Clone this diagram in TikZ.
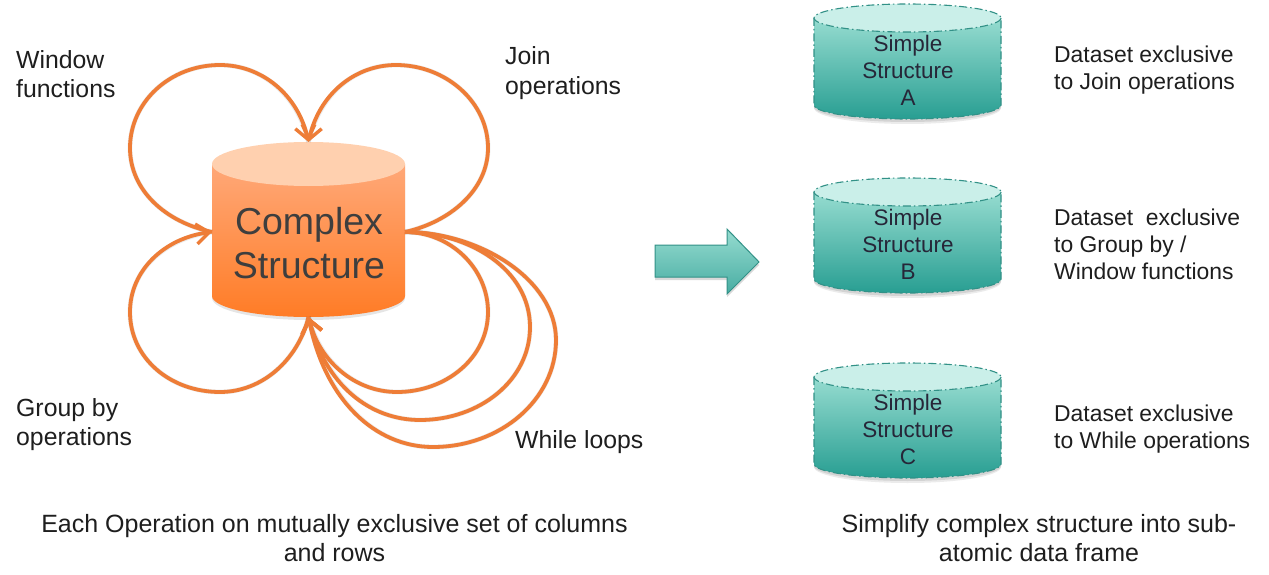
\documentclass[tikz,border=0pt]{standalone}
\usepackage{fontspec}
\setmainfont{Liberation Sans}
\usetikzlibrary{arrows.meta}
\definecolor{loopc}{RGB}{238,125,55}
\definecolor{orgtop}{RGB}{255,168,120}
\definecolor{orgbot}{RGB}{255,124,38}
\definecolor{orglid}{RGB}{255,208,175}
\definecolor{tealtop}{RGB}{150,220,208}
\definecolor{tealbot}{RGB}{40,158,146}
\definecolor{teallid}{RGB}{202,239,233}
\definecolor{tealline}{RGB}{50,145,135}
\definecolor{labelc}{RGB}{30,30,30}
\definecolor{bigc}{RGB}{62,62,62}
\definecolor{smallc}{RGB}{38,38,56}
\tikzset{
  x=1pt,y=-1pt,
  looparrow/.style={draw=loopc,line width=3.8pt,-{Straight Barb[length=13pt,width=20pt,line width=3.4pt]}},
  loopshadow/.style={draw=black,opacity=0.08,line width=4.8pt},
  plainlabel/.style={font=\fontsize{24.8}{29.5}\selectfont,text=labelc,align=left,anchor=west,inner sep=0pt},
  rightlabel/.style={font=\fontsize{22.9}{27}\selectfont,text=labelc,align=left,anchor=west,inner sep=0pt},
  caption/.style={font=\fontsize{25}{29}\selectfont,text=labelc,align=center,inner sep=0pt},
  bigtext/.style={font=\fontsize{37.5}{44}\selectfont,text=bigc,align=center,inner sep=0pt},
  smalltext/.style={font=\fontsize{22.5}{27}\selectfont,text=smallc,align=center,inner sep=0pt},
  tealedge/.style={draw=tealline,line width=1.1pt,dash pattern=on 8pt off 3pt on 1.5pt off 3pt},
}
\newcommand{\smallcyl}[2]{% top y of the lid, name
  \fill[black,opacity=0.08] (814,#1+16) -- (814,#1+104) arc[start angle=180,end angle=360,x radius=93.5,y radius=-16] -- (1001,#1+16) -- cycle;
  \fill[black,opacity=0.10] (814,#1+16) -- (814,#1+103) arc[start angle=180,end angle=360,x radius=93.5,y radius=-15] -- (1001,#1+16) -- cycle;
  \shade[top color=tealtop,bottom color=tealbot] (814,#1+14) -- (814,#1+101) arc[start angle=180,end angle=360,x radius=93.5,y radius=-14] -- (1001,#1+14) -- cycle;
  \draw[tealedge] (814,#1+14) -- (814,#1+101) arc[start angle=180,end angle=360,x radius=93.5,y radius=-14] -- (1001,#1+14);
  \fill[teallid] (907.5,#1+14) ellipse[x radius=93.5,y radius=14];
  \draw[tealedge] (907.5,#1+14) ellipse[x radius=93.5,y radius=14];
}
\begin{document}
\begin{tikzpicture}
\useasboundingbox (0,0) rectangle (1269,575);
\fill[white] (0,0) rectangle (1269,575);

% complex cylinder
\fill[black,opacity=0.10] (212,168) -- (212,298) arc[start angle=180,end angle=360,x radius=96.5,y radius=-22] -- (405,168) -- cycle;
\shade[top color=orgtop,bottom color=orgbot] (212,164) -- (212,296) arc[start angle=180,end angle=360,x radius=96.5,y radius=-21] -- (405,164) -- cycle;
\fill[orglid] (308.5,164) ellipse[x radius=96.5,y radius=22];
\node[bigtext] (complex) at (309,243.5) {Complex\\Structure};

\coordinate (top) at (308.5,142);
\coordinate (left) at (212,232);
\coordinate (right) at (405,232);
\coordinate (bottom) at (308.5,317);

% loops
\foreach \s in {loopshadow,looparrow}{
\draw[\s] (right) .. controls (450,222) and (488,190) .. (488,148) .. controls (488,102) and (446,65) .. (396,65) .. controls (354,65) and (319,95) .. (top);
\draw[\s] (left) .. controls (165,222) and (130,190) .. (130,148) .. controls (130,102) and (170,65) .. (220,65) .. controls (262,65) and (298,95) .. (top);
\draw[\s] (bottom) .. controls (298,360) and (262,392) .. (220,392) .. controls (170,392) and (130,358) .. (130,312) .. controls (130,270) and (165,238) .. (left);
\draw[\s] (right) .. controls (450,232) and (488,268) .. (488,312) .. controls (488,358) and (446,392) .. (397,392) .. controls (354,392) and (319,360) .. (bottom);
\draw[\s] (right) .. controls (470,232) and (530,270) .. (530,327) .. controls (530,380) and (480,420) .. (420,420) .. controls (370,420) and (325,385) .. (bottom);
\draw[\s] (right) .. controls (480,232) and (556,280) .. (556,340) .. controls (556,400) and (500,447) .. (433,447) .. controls (375,447) and (325,400) .. (bottom);
}

% simple cylinders
\smallcyl{4}{A}
\smallcyl{178}{B}
\smallcyl{363}{C}
\node[smalltext] (ssa) at (908,70.5) {Simple\\Structure\\A};
\node[smalltext] (ssb) at (908,244.5) {Simple\\Structure\\B};
\node[smalltext] (ssc) at (908,429.5) {Simple\\Structure\\C};

% block arrow
\path[fill=black,opacity=0.15] (655,248) -- (727,248) -- (727,232) -- (759,265) -- (727,297) -- (727,280) -- (655,280) -- cycle;
\shade[top color=tealtop,bottom color=tealbot!85!white,draw=tealline,line width=1pt] (655,245) -- (727,245) -- (727,229) -- (759,262) -- (727,294) -- (727,277) -- (655,277) -- cycle;

% labels
\node[plainlabel] (lw) at (16,74) {Window\\functions};
\node[plainlabel] (lj) at (505,73) {Join\\operations};
\node[plainlabel] (lg) at (16,424.5) {Group by\\operations};
\node[plainlabel] (ll) at (515,442) {While loops};
\node[rightlabel] (ra) at (1054,70) {Dataset exclusive\\to Join operations};
\node[rightlabel] (rb) at (1054,244.5) {Dataset\ \ exclusive\\to Group by /\\Window functions};
\node[rightlabel] (rc) at (1054,429) {Dataset exclusive\\to While operations};
\node[caption] (c1) at (334.5,538.5) {Each Operation on mutually exclusive set of columns\\and rows};
\node[caption] (c2) at (1039,538) {Simplify complex structure into sub-\\atomic data frame};
\end{tikzpicture}
\end{document}
